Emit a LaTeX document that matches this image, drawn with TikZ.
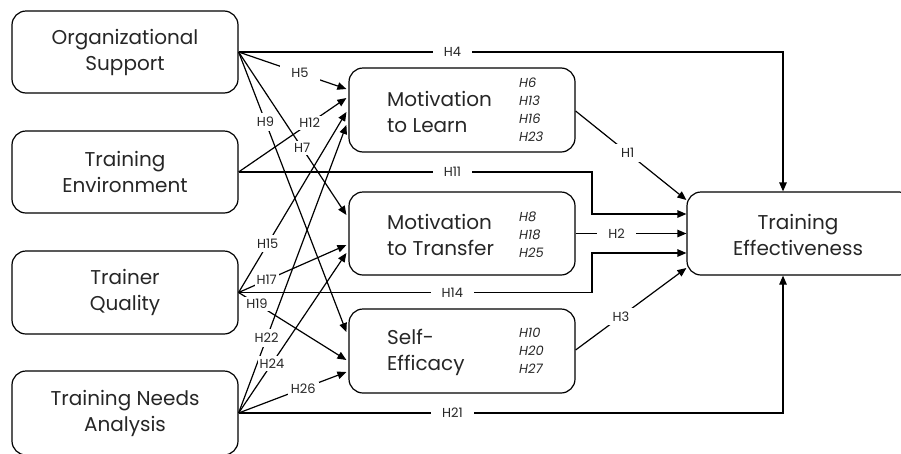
\documentclass[tikz,border=0pt]{standalone}
\usepackage{fontspec}
\setmainfont{Poppins}
\usetikzlibrary{arrows.meta,calc}
\begin{document}
\begin{tikzpicture}[x=1pt,y=-1pt,
  box/.style={draw,line width=1.2pt,rounded corners=14pt,minimum width=226pt,inner sep=0pt},
  maintext/.style={font=\fontsize{20}{26}\selectfont,align=center,inner sep=0pt,text=black!85},
  hyp/.style={fill=white,font=\fontsize{13}{15}\selectfont,inner xsep=11pt,inner ysep=4pt,text=black!85},
  hlist/.style={font=\fontsize{13}{18}\selectfont\itshape,align=left,inner sep=0pt,anchor=west,text=black!85},
  link/.style={line width=1.2pt,-{Triangle[length=9pt,width=7.5pt]}},
  plain/.style={line width=1.2pt}]
\useasboundingbox (0,0) rectangle (901,453);

% exogenous constructs
\node[box,minimum height=82pt,maintext] (os)  at (125,52)  {Organizational\\Support};
\node[box,minimum height=82pt,maintext] (env) at (125,172) {Training\\Environment};
\node[box,minimum height=83pt,maintext] (tq)  at (125,292.5) {Trainer\\Quality};
\node[box,minimum height=84pt,maintext] (tna) at (125,413) {Training Needs\\Analysis};

% mediators
\node[box,minimum height=84pt] (ml) at (462,110) {};
\node[box,minimum height=83pt] (mt) at (462,233.5) {};
\node[box,minimum height=84pt] (se) at (462,351) {};
\node[maintext,align=left,anchor=west] (mlt) at (387,111.5) {Motivation\\to Learn};
\node[maintext,align=left,anchor=west] (mtt) at (387,235) {Motivation\\to Transfer};
\node[maintext,align=left,anchor=west] (set) at (387,352.5) {Self-\\Efficacy};
\node[hlist] (mlh) at (519,110) {H6\\H13\\H16\\H23};
\node[hlist] (mth) at (519,234.5) {H8\\H18\\H25};
\node[hlist] (seh) at (519,351) {H10\\H20\\H27};

% outcome
\node[box,minimum height=83pt] (te) at (800,233.5) {};
\node[maintext] (tet) at (798,235) {Training\\Effectiveness};

% arrow end points
\coordinate (t4)  at ($(te.north)+(-17,0)$);
\coordinate (t21) at ($(te.south)+(-17,0)$);
\coordinate (t1)  at ($(te.west)+(0,-33.5)$);
\coordinate (t11) at ($(te.west)+(0,-19.5)$);
\coordinate (t14) at ($(te.west)+(0,19.5)$);
\coordinate (t3)  at ($(te.west)+(0,34.5)$);
\coordinate (k)   at (592,0);

% direct paths to training effectiveness
\draw[link] (os.east) -- node[hyp,pos=0.393]{H4} (os.east -| t4) -- (t4);
\draw[link] (env.east) -- node[hyp,pos=0.605]{H11} (env.east -| k) -- (k |- t11) -- (t11);
\draw[link] (tq.east) -- node[hyp,pos=0.605]{H14} (tq.east -| k) -- (k |- t14) -- (t14);
\draw[link] (tna.east) -- node[hyp,pos=0.393]{H21} (tna.east -| t21) -- (t21);

% mediators to training effectiveness
\draw[link] ($(ml.east)+(0,1)$) -- node[hyp,pos=0.47,inner xsep=8pt]{H1} (t1);
\draw[link] (mt.east) -- node[hyp,pos=0.37]{H2} (te.west);
\draw[link] ($(se.east)+(0,-1)$) -- node[hyp,pos=0.41,inner xsep=8pt]{H3} (t3);

% organizational support
\draw[link] (os.east) -- node[hyp,pos=0.57]{H5} ($(ml.west)+(-2,-21)$);
\draw[link] (os.east) -- node[hyp,pos=0.59,inner xsep=2pt,inner ysep=2pt]{H7} ($(mt.west)+(-2,-18.5)$);
\draw[link] (os.east) -- node[hyp,pos=0.25,inner xsep=2pt,inner ysep=4pt]{H9} ($(se.west)+(-2,-19)$);

% training environment
\draw[link] (env.east) -- node[hyp,pos=0.66,inner xsep=3pt,inner ysep=2pt]{H12} ($(ml.west)+(-2,-12)$);

% trainer quality
\draw[link] (tq.east) -- node[hyp,pos=0.27,inner xsep=2pt,inner ysep=4pt]{H15} ($(ml.west)+(-2,2)$);
\draw[link] (tq.east) -- node[hyp,pos=0.26,inner xsep=2pt,inner ysep=2pt]{H17} ($(mt.west)+(-2,11.5)$);
\draw[link] (tq.east) -- node[hyp,pos=0.17,inner xsep=2pt,inner ysep=2pt]{H19} ($(se.west)+(-2,9)$);

% training needs analysis
\draw[link] (tna.east) -- node[hyp,pos=0.26,inner xsep=2pt,inner ysep=4pt]{H22} ($(ml.west)+(-2,15)$);
\draw[link] (tna.east) -- node[hyp,pos=0.31,inner xsep=2pt,inner ysep=3pt]{H24} ($(mt.west)+(-2,19.5)$);
\draw[link] (tna.east) -- node[hyp,pos=0.6,inner xsep=3pt,inner ysep=2pt]{H26} ($(se.west)+(-2,21)$);
\end{tikzpicture}
\end{document}
